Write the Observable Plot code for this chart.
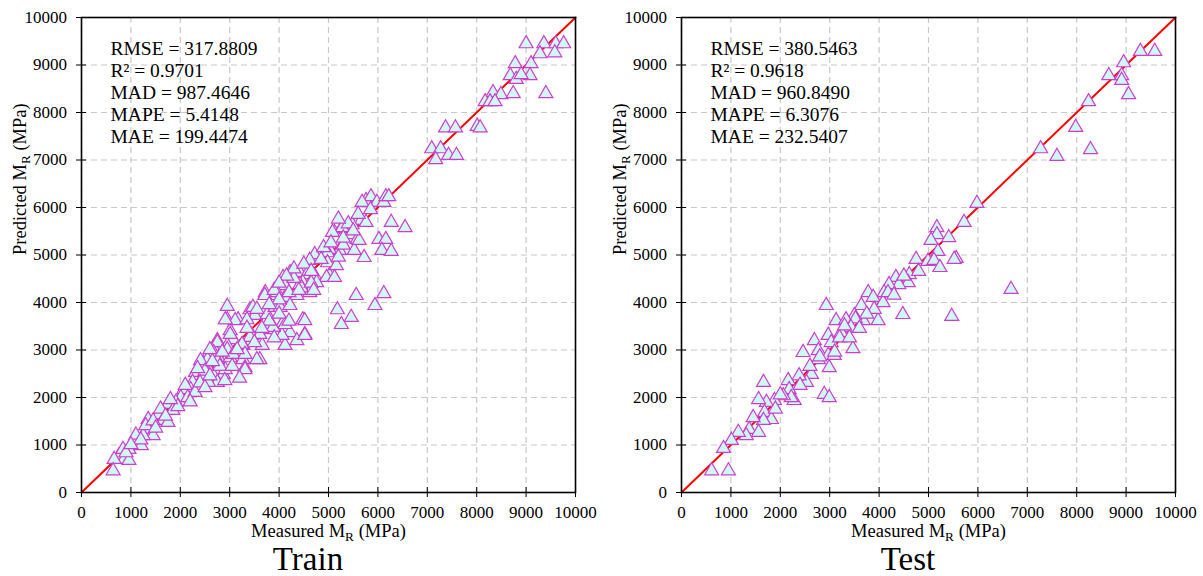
<!DOCTYPE html>
<html><head><meta charset="utf-8">
<script src="https://cdn.jsdelivr.net/npm/d3@7"></script>
<script src="https://cdn.jsdelivr.net/npm/@observablehq/plot@0.6"></script>
<style>
body{margin:0;background:#fff;}
#fig{position:relative;width:1203px;height:576px;font-family:"Liberation Serif","Times New Roman",serif;background:#fff;overflow:hidden;}
.panel{position:absolute;top:0;width:600px;height:576px;}
.panel svg, .panel svg text{font-family:"Liberation Serif","Times New Roman",serif !important;}
.title{position:absolute;left:0;width:616px;top:544px;height:30px;text-align:center;font-size:33px;line-height:30px;color:#000;}
</style></head><body><div id="fig"></div><script>
// ---- data ----
const axisDomain = [0, 10000];
const axisTicks = [0, 1000, 2000, 3000, 4000, 5000, 6000, 7000, 8000, 9000, 10000];
const identityLine = [0, 10000];
const metricNames = ["RMSE", "R²", "MAD", "MAPE", "MAE"];
const trainStats = ["317.8809", "0.9701", "987.4646", "5.4148", "199.4474"];
const testStats = ["380.5463", "0.9618", "960.8490", "6.3076", "232.5407"];
const panelTitles = ["Train", "Test"];
const xLabelParts = ["Measured M", "R", " (MPa)"];
const yLabelParts = ["Predicted M", "R", " (MPa)"];

const trainMeasured = [9000,9360,9600,9760,9280,9580,8780,9100,8680,8800,9080,8900,9400,8330,8490,8740,8170,8270,8370,7370,7570,8010,8070,7090,7270,7170,7430,7590,
5760,5860,5980,6120,6160,6220,5660,5760,5120,5260,5460,5580,6270,6550,6020,6160,6080,6270,5720,5520,5220,4720,5020,4480,4620,5020,5560,6120,5940,5180,5460,
5680,5480,5280,5080,5620,4980,4620,4980,5160,4220,4080,4420,4560,4720,4960,5120,4120,4480,4760,4620,3720,3860,4120,4360,5260,
2950,2950,3170,3410,3510,3760,3920,4080,4480,4220,4520,4120,4360,4060,3780,3660,3450,3270,3070,3010,2750,2670,2950,2550,2770,3010,3270,3610,3310,2470,2610,2870,
3110,3470,3710,3960,4020,4220,4520,4120,4520,3880,3610,3410,3250,3010,2950,2750,2670,3070,3310,3550,3310,2910,2750,2550,2410,2310,2450,2670,2750,2570,2250,
2210,2070,2010,2150,1910,1750,1850,1550,1650,1350,1370,1750,1450,1250,1060,960,1210,760,860,660,960,640,840,2910,3350,4420,
3900,4200,4450,4650,4300,4000,3800,4700,4900,5050,5300,4850,5200,4300,4500,4150,4650,4400,4000,
3550,3800,4000,3650,3350,3900,3500,4200,2600,2850,3150,2800,3050,2500,3200,2900,2650,
2100,2300,2400,2200,1950,2500,2600,2350,1800,1100,1300,1450,1600,1200,900,1000,1500,1700,5400,5600,5300,5500,5850,5200];
const trainPredicted = [9490,9490,9490,9490,9280,9300,9070,9070,8820,8740,8820,8840,8440,8460,8420,8440,8270,8270,8270,7720,7720,7750,7720,7280,7280,7050,7140,7140,
6190,6270,6150,6150,6270,6270,5770,5730,5520,5600,5470,5370,5730,5620,5370,5370,5140,5120,4990,5140,5140,5050,5160,4530,4570,4610,4190,4230,3980,3890,3730,
6150,5680,5620,5520,5350,5090,4930,4880,4820,4670,4570,4670,4630,4610,4570,4570,4400,4460,4460,4250,4250,4190,4150,4190,3580,
3960,3680,3680,3890,3770,3790,3940,3620,3680,3410,3370,3140,3240,3350,3470,3140,3350,3140,3260,3450,3240,3090,3140,2930,2880,2880,2840,2840,2670,2740,2570,2530,
3660,3940,4190,4250,3940,3980,3660,3580,3350,3520,3370,3310,3160,3370,3050,3200,2990,2950,2950,2840,2630,2630,2820,2840,2820,2570,2460,2510,2360,2360,2360,
2210,2210,2040,2040,1940,1900,1770,1680,1560,1580,1370,1520,1240,1240,1100,950,1030,820,740,740,720,500,950,3680,3680,4420,
4300,4250,4350,4450,4550,4100,4000,4300,5200,5300,5250,4950,5000,4750,4850,4600,4700,4300,4450,
3900,3650,3800,3500,3500,3300,3200,3650,3050,3000,3050,2700,2700,2600,2450,2400,2800,
2300,2150,2350,1950,1850,2250,2500,2650,2000,1250,1450,1550,1800,1150,880,1050,1400,1650,5700,5900,5400,5550,6000,5800];

const testMeasured = [9290,9580,8950,8650,8910,8910,9050,8240,7980,7270,7600,8280,
5980,5720,5170,5170,5050,5410,5190,4750,4990,5110,5230,5560,5520,4610,4590,4340,4400,4200,4100,3780,3880,4080,3980,3680,3640,3500,4480,5470,6670,
2930,3130,3330,3520,4180,3430,3230,3470,2970,3030,2690,2460,2770,2970,3090,2990,2770,2630,2530,2380,2160,2180,2280,2220,2060,1880,1720,1660,1560,1680,1820,1660,1450,1370,1560,1310,1150,1010,850,610,950,2890,2990,
2800,3200,3600,3900,4300,2600,3400,4500,3100,2400,2000,1900,4800,3750,3300];
const testPredicted = [9330,9330,9090,8820,8820,8720,8420,8270,7730,7280,7120,7260,
6130,5730,5620,5470,5350,5410,5120,4950,4910,4930,4780,4970,4950,4630,4460,4570,4420,4420,4250,4250,4150,4040,3660,3660,3980,3770,3790,3750,4320,
3980,3660,3680,3700,4250,3520,3410,3070,3350,3200,3240,2990,3030,2930,2930,2670,2840,2530,2360,2500,2400,2210,1980,2040,2080,1980,1940,2360,2000,1730,1580,1560,1620,1370,1310,1240,1310,1140,970,500,500,2110,2040,
2900,3300,3500,3900,4200,2700,3300,4600,3000,2300,2100,1800,4700,3800,3550];

// ---- drawing ----
const serif = "'Liberation Serif', 'Times New Roman', serif";

function subscriptify(svg, parts) {
  const full = parts.join("");
  d3.select(svg).selectAll("text").filter(function(){ return this.textContent === full; }).each(function(){
    const t = d3.select(this);
    t.text(null);
    t.append("tspan").text(parts[0]);
    t.append("tspan").attr("font-size", "0.72em").attr("dy", "4").text(parts[1]);
    t.append("tspan").attr("dy", "-4").text(parts[2]);
  });
}

function makePanel(measured, predicted, stats, title, left) {
  const pts = measured.map((m, i) => ({m, p: predicted[i]}));
  const statText = metricNames.map((n, i) => `${n} = ${stats[i]}`).join("\n");
  const svg = Plot.plot({
    width: 600, height: 545,
    marginLeft: 81, marginRight: 25, marginTop: 17, marginBottom: 53,
    x: {domain: axisDomain},
    y: {domain: axisDomain},
    style: {fontFamily: serif, fontSize: "17px", color: "#000", background: "#fff", overflow: "visible"},
    marks: [
      Plot.gridX(axisTicks, {stroke: "#c8c8c8", strokeOpacity: 1, strokeDasharray: "6,4", strokeWidth: 1.2}),
      Plot.gridY(axisTicks, {stroke: "#c8c8c8", strokeOpacity: 1, strokeDasharray: "6,4", strokeWidth: 1.2}),
      Plot.line(identityLine, {x: d => d, y: d => d, stroke: "red", strokeWidth: 2}),
      Plot.dot(pts, {x: "m", y: "p", symbol: "triangle", r: 5.2, dy: 2, fill: "#cff8f6", stroke: "#cc3fcc", strokeWidth: 1.2}),
      Plot.frame({stroke: "#000", strokeWidth: 1.6}),
      Plot.axisX(axisTicks, {tickSize: 10, dy: -5, tickPadding: 8, label: null, fontSize: 17, fontFamily: serif, tickFormat: d => String(d)}),
      Plot.axisY(axisTicks, {tickSize: 10, dx: 5, tickPadding: 9.5, label: null, fontSize: 17, fontFamily: serif, tickFormat: d => String(d)}),
      Plot.text([statText], {frameAnchor: "top-left", dx: 29, dy: 21.5, lineAnchor: "top", lineHeight: 1.13, fontSize: 19.5, fontFamily: serif, textAnchor: "start"}),
      Plot.text([xLabelParts.join("")], {frameAnchor: "bottom", dy: 44, fontSize: 18.5, fontFamily: serif}),
      Plot.text([yLabelParts.join("")], {frameAnchor: "left", dx: -61, rotate: -90, fontSize: 18.5, fontFamily: serif})
    ]
  });
  subscriptify(svg, xLabelParts);
  subscriptify(svg, yLabelParts);
  const div = document.createElement("div");
  div.className = "panel";
  div.style.left = left + "px";
  div.appendChild(svg);
  const t = document.createElement("div");
  t.className = "title";
  t.textContent = title;
  div.appendChild(t);
  document.getElementById("fig").appendChild(div);
}

makePanel(trainMeasured, trainPredicted, trainStats, panelTitles[0], 0);
makePanel(testMeasured, testPredicted, testStats, panelTitles[1], 600);
</script></body></html>
